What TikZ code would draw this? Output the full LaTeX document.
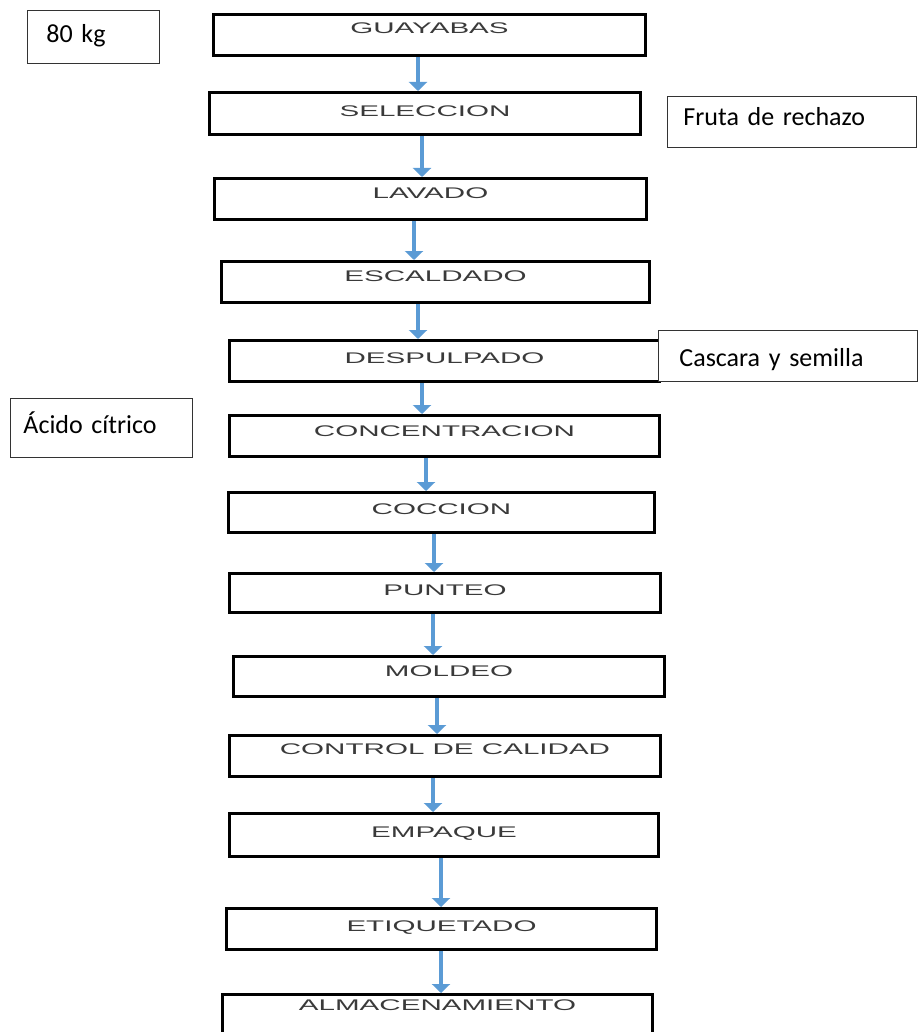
\documentclass[tikz,border=0pt]{standalone}
\usepackage{fontspec}
\usepackage{graphicx}
\setmainfont{Liberation Sans}
\newfontfamily\notefont{Carlito}
\usetikzlibrary{arrows.meta,calc}
\definecolor{flowblue}{HTML}{5B9BD5}
\definecolor{labelgray}{HTML}{3A3A3A}

% wide, stretched capitals used inside the process boxes
\newcommand{\steplabel}[1]{\scalebox{1.92}[1]{\fontsize{15.4}{15.4}\selectfont #1}}

\begin{document}
\begin{tikzpicture}[x=1pt,y=-1pt,
  stepbox/.style={draw=black, line width=3pt, fill=white, inner sep=0pt,
    text=labelgray, text height=11pt, text depth=11pt},
  lift/.style={text depth=#1},
  notebox/.style={draw=black!80, line width=0.9pt, fill=white, anchor=north west,
    align=left, inner ysep=0pt, text depth=0pt,
    font=\notefont\fontsize{26}{28}\selectfont},
  flow/.style={draw=flowblue, line width=3.5pt,
    -{Triangle[width=18pt,length=9pt]}}]
\useasboundingbox (0,0) rectangle (918,1032);
\clip (0,0) rectangle (918,1032);

% process steps
\node[stepbox, minimum width=432pt, minimum height=41pt, lift=14pt] (g1) at (429.5,35) {\steplabel{GUAYABAS}};
\node[stepbox, minimum width=431pt, minimum height=42pt, lift=5pt] (g2) at (425,113.5) {\steplabel{SELECCION}};
\node[stepbox, minimum width=432pt, minimum height=41pt, lift=11.4pt] (g3) at (430.5,199) {\steplabel{LAVADO}};
\node[stepbox, minimum width=428pt, minimum height=41pt, lift=11.4pt] (g4) at (435.5,282) {\steplabel{ESCALDADO}};
\node[stepbox, minimum width=430pt, minimum height=41pt, lift=7pt] (g5) at (444.5,361) {\steplabel{DESPULPADO}};
\node[stepbox, minimum width=430pt, minimum height=41pt, lift=11pt] (g6) at (444.5,436) {\steplabel{CONCENTRACION}};
\node[stepbox, minimum width=426pt, minimum height=40pt, lift=7pt] (g7) at (441.5,512.5) {\steplabel{COCCION}};
\node[stepbox, minimum width=431pt, minimum height=39pt, lift=6pt] (g8) at (445,593) {\steplabel{PUNTEO}};
\node[stepbox, minimum width=431pt, minimum height=40pt, lift=11pt] (g9) at (449,676.5) {\steplabel{MOLDEO}};
\node[stepbox, minimum width=431pt, minimum height=41pt, lift=14pt] (g10) at (445,756) {\steplabel{CONTROL DE CALIDAD}};
\node[stepbox, minimum width=429pt, minimum height=43pt, lift=6pt] (g11) at (444,835) {\steplabel{EMPAQUE}};
\node[stepbox, minimum width=430pt, minimum height=41pt, lift=7pt] (g12) at (441.5,929) {\steplabel{ETIQUETADO}};
\node[stepbox, minimum width=430pt, minimum height=49pt, lift=28pt] (g13) at (437.5,1019) {\steplabel{ALMACENAMIENTO}};

% flow arrows between consecutive steps
\draw[flow] ($(g1.south)+(-11.5,0)$) -- ($(g1.south |- g2.north)+(-11.5,0)$);
\draw[flow] ($(g2.south)+(-3,0)$) -- ($(g2.south |- g3.north)+(-3,0)$);
\draw[flow] ($(g3.south)+(-16.5,0)$) -- ($(g3.south |- g4.north)+(-16.5,0)$);
\draw[flow] ($(g4.south)+(-17.5,0)$) -- ($(g4.south |- g5.north)+(-17.5,0)$);
\draw[flow] ($(g5.south)+(-22.5,0)$) -- ($(g5.south |- g6.north)+(-22.5,0)$);
\draw[flow] ($(g6.south)+(-18.5,0)$) -- ($(g6.south |- g7.north)+(-18.5,0)$);
\draw[flow] ($(g7.south)+(-7.5,0)$) -- ($(g7.south |- g8.north)+(-7.5,0)$);
\draw[flow] ($(g8.south)+(-12,0)$) -- ($(g8.south |- g9.north)+(-12,0)$);
\draw[flow] ($(g9.south)+(-12,0)$) -- ($(g9.south |- g10.north)+(-12,0)$);
\draw[flow] ($(g10.south)+(-12,0)$) -- ($(g10.south |- g11.north)+(-12,0)$);
\draw[flow] ($(g11.south)+(-3,0)$) -- ($(g11.south |- g12.north)+(-3,0)$);
\draw[flow] ($(g12.south)+(-0.5,0)$) -- ($(g12.south |- g13.north)+(-0.5,0)$);

% side notes: input mass, by-products and additive
\node[notebox, inner xsep=19pt, text width=94pt, minimum height=53pt, text height=10.5pt] (kg) at (27,10) {80 kg};
\node[notebox, inner xsep=16pt, text width=217pt, minimum height=51pt, text height=7pt] (rej) at (667,96) {Fruta de rechazo};
\node[notebox, inner xsep=21pt, text width=217pt, minimum height=51pt, text height=22pt] (peel) at (658,330) {Cascara y semilla};
\node[notebox, inner xsep=13pt, text width=156pt, minimum height=59pt, text height=11pt] (acid) at (10,398) {Ácido cítrico};
\end{tikzpicture}
\end{document}
